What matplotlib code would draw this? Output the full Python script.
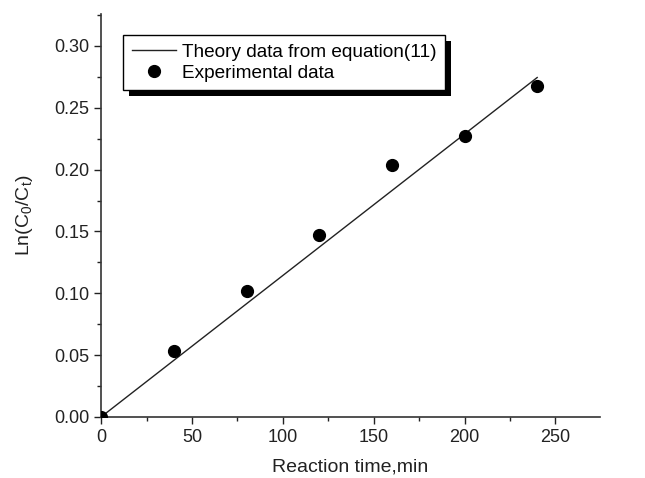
import matplotlib
matplotlib.use("Agg")
import matplotlib.pyplot as plt
from matplotlib.patches import Rectangle
from matplotlib.transforms import IdentityTransform
from matplotlib.ticker import MultipleLocator, FormatStrFormatter

plt.rcParams['font.family'] = ['Liberation Sans', 'DejaVu Sans']
plt.rcParams['mathtext.fontset'] = 'custom'
plt.rcParams['mathtext.rm'] = 'Liberation Sans'
plt.rcParams['mathtext.it'] = 'Liberation Sans'

time_exp = [0, 40, 80, 120, 160, 200, 240]
ln_exp = [0.0, 0.053, 0.102, 0.147, 0.204, 0.227, 0.268]
time_theory = [0, 240]
ln_theory = [0.0, 0.2745]

fig = plt.figure(figsize=(6.45, 4.78), dpi=100)
ax = fig.add_axes([0.157, 0.128, 0.773, 0.843])

ax.plot(time_theory, ln_theory, color='#222222', lw=1.0, label='Theory data from equation(11)', zorder=2)
ax.plot(time_exp, ln_exp, 'o', color='black', ms=8.5, label='Experimental data', zorder=3)

ax.set_xlim(0, 274.5)
ax.set_ylim(0, 0.326)
ax.xaxis.set_major_locator(MultipleLocator(50))
ax.xaxis.set_minor_locator(MultipleLocator(25))
ax.yaxis.set_major_locator(MultipleLocator(0.05))
ax.yaxis.set_minor_locator(MultipleLocator(0.025))
ax.yaxis.set_major_formatter(FormatStrFormatter('%.2f'))
ax.tick_params(which='major', direction='out', length=5, width=1, labelsize=13, colors='#222222')
ax.tick_params(which='minor', direction='out', length=3, width=1, colors='#222222')
for s in ['top', 'right']:
    ax.spines[s].set_visible(False)
for s in ['left', 'bottom']:
    ax.spines[s].set_color('#333333')
    ax.spines[s].set_linewidth(1.2)

ax.set_xlabel('Reaction time,min', fontsize=14, color='#222222', labelpad=9)
ax.set_ylabel('Ln(C$_0$/C$_t$)', fontsize=14, color='#222222', labelpad=14)

leg = ax.legend(loc='upper left', bbox_to_anchor=(0.044, 0.948), borderaxespad=0,
                fancybox=False, edgecolor='black', framealpha=1, fontsize=13.7,
                handlelength=2.35, handletextpad=0.27, borderpad=0.45, labelspacing=0.2)
leg.get_frame().set_linewidth(1.0)
leg.set_zorder(6)

fig.canvas.draw()
bb = leg.get_window_extent()
off = 6
shadow = Rectangle((bb.x0 + off, bb.y0 - off), bb.width, bb.height,
                   transform=IdentityTransform(), facecolor='black', edgecolor='none',
                   zorder=5, clip_on=False)
ax.add_artist(shadow)

fig.savefig('out.png', dpi=100)
